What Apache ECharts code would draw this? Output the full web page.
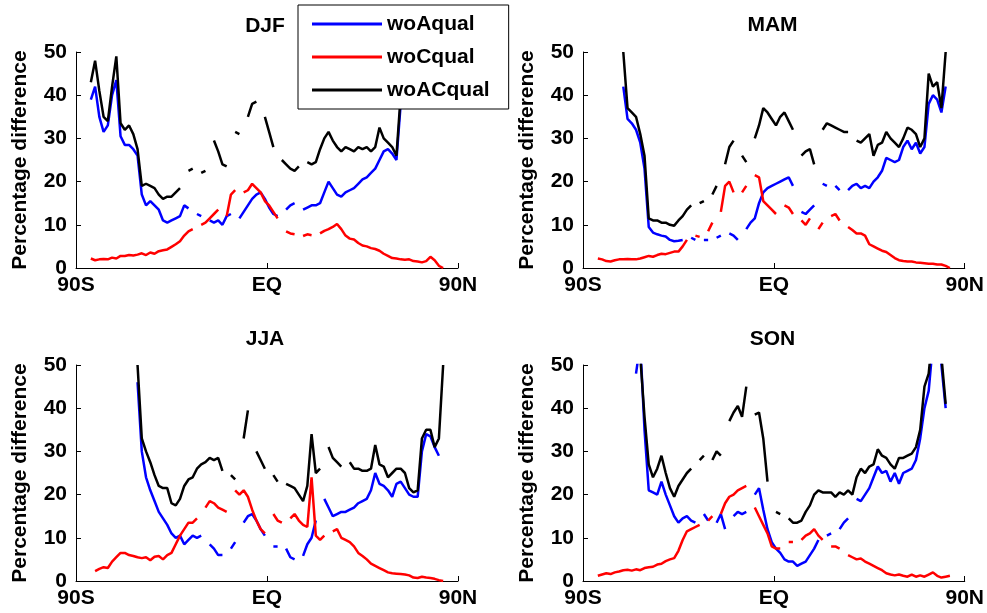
<!DOCTYPE html>
<html><head><meta charset="utf-8">
<script src="https://cdn.jsdelivr.net/npm/echarts@6.0.0/dist/echarts.min.js"></script>
<style>html,body{margin:0;padding:0;background:#fff}#c{width:987px;height:613px}</style>
</head><body><div id="c"></div>
<script>
// latitude sample points (degrees, negative = south)
const lat = [-85,-83,-81,-79,-77,-75,-73,-71,-69,-67,-65,-63,-61,-59,-57,-55,-53,-51,-49,-47,
-45,-43,-41,-39,-37,-35,-33,-31,-29,-27,-25,-23,-21,-19,-17,-15,-13,-11,-9,-7,
-5,-3,-1,1,3,5,7,9,11,13,15,17,19,21,23,25,27,29,31,33,
35,37,39,41,43,45,47,49,51,53,55,57,59,61,63,65,67,69,71,73,
75,77,79,81,83,85];
const seriesNames = ['woAqual','woCqual','woACqual'];
const panelTitles = ['DJF','MAM','JJA','SON'];
const xTickLabels = ['90S','EQ','90N'];
const yName = 'Percentage difference';

const djfA = [null,39,42,35,31.5,33,40,43.5,30.5,28.5,
28.5,27.5,26,17,14.5,15.5,14.5,13.5,11,10.5,
11,11.5,12,14.5,13.8,null,12.5,12,null,11,
10.5,11,10,12,12.5,null,11.5,13,14.5,16,
17,17.5,16,14,12.5,12,null,13.5,14.5,15,
null,13.5,14,14.5,14.5,15,17.5,20,18.5,17,
16.5,17.5,18,18.5,19.5,20.5,21,22,23,25,
27,27.5,26.5,25,38,60,null,null,null,null,
null,null,null,null,null,null];
const djfC = [null,2.2,1.8,2.0,2.1,2.0,2.4,2.2,2.8,2.8,
3.0,2.9,3.1,3.4,3.0,3.6,3.3,3.9,4.1,4.3,
4.9,5.5,6.2,7.5,8.5,9,null,10,10.5,11.5,
12.5,13.5,null,12,17,18,null,17.5,18,19.5,
18.5,17.5,15.5,14.5,13,11.5,null,8.5,8.0,7.8,
null,7.4,7.8,7.6,null,8.0,8.6,9.0,9.5,10.2,
9.0,7.5,6.8,6.6,5.8,5.2,5.0,4.6,4.4,4.0,
3.3,2.8,2.3,2.2,2.0,1.9,2.0,1.6,1.5,1.3,
1.6,2.6,1.8,0.5,0,null];
const djfAC = [null,43,48,41,35,34,42,49,33.5,32,
33,31,27.5,19,19.5,19,18.5,17,16,16.5,
16.5,17.5,18.5,null,22.5,23,null,22,22.5,null,
29.5,27,24,23.5,null,31.5,31,null,35,38,
38.5,null,35,31.5,28,null,25,24,23,22.5,
23.5,null,24.5,24,24.5,27.5,30,31.5,29.5,28,
27,28,27.5,27,28,27.5,28,27,28,32.5,
30,29,28,26,40,60,null,null,null,null,
null,null,null,null,null,null];

const mamA = [null,null,null,null,null,null,null,42,34.5,33.5,
32,29,23,9.5,8.2,7.8,7.5,7.3,6.5,6.2,
6.3,6.5,null,7.0,6.5,null,6.5,6.5,null,7.0,
7.5,null,8.0,7.5,6.5,null,9,10.5,11.5,15,
17.5,18.5,19,19.5,20,20.5,21,19,null,13,
12.5,13.5,14.5,null,19.5,19,null,19,18,null,
18,19,19.5,18.5,19,18.5,20,21,22.5,25.5,
25,24.5,25,28,29.5,27.5,29,26.5,28,38,
40,39,36,42,null,null];
const mamC = [null,2.2,2.0,1.6,1.5,1.8,2.0,2.0,2.1,2.0,
2.0,2.2,2.5,2.8,2.6,3.0,3.3,3.2,3.5,3.8,
3.8,5,6.5,null,7.5,7.2,null,8.5,10.5,null,
13,19,20,17.5,null,17.5,19,null,21.5,21,
15.5,14.5,13.5,12.5,null,14.5,14,12.5,null,11,
10,11.5,null,9,10.5,null,12,12.5,11,null,
9.5,8.8,8,8,7.5,5.5,5,4.5,4.0,3.7,
3,2.3,1.8,1.6,1.5,1.5,1.3,1.2,1.1,1.0,
1.0,0.8,0.8,0.5,0,null];
const mamAC = [null,null,null,null,null,null,null,50,37,36,
35,31,26,11.5,11,11,10.5,10.5,10,9.8,
11,12,13.5,14.5,null,15,15.5,null,17,19,
null,24,28,29.5,null,26,24.5,null,30,33,
37,36,34.5,33,35,36,34,32,null,26,
27,27.5,24,null,32,33.5,33,32.5,32,31.5,
31.5,null,29.5,29,30,31,26,28.5,29,31.5,
30,29,28,30,32.5,32,31,28,30,45,
42,43,37,50,null,null];

const jjaA = [null,null,null,null,null,null,null,null,null,null,
null,null,46,30,24,21,18.5,16,14.5,13,
11,10,10.5,8.5,9.5,10.5,10,10.5,null,8.5,
7.5,6,6,null,7.5,9,null,13.5,15,15.5,
14,12,10.5,null,8,8,null,7.5,5.5,5,
null,5.8,8.5,10,14,null,19,17,15,15.5,
16,16,16.5,17,18,18.5,19,21,25,22.5,
22,21,19.5,22.5,23,21.5,20,19.5,19.5,30,
34,33.5,31,29,null,null];
const jjaC = [null,null,2.3,2.8,3.2,3.0,4.5,5.5,6.5,6.5,
6,5.8,5.5,5.3,5.5,4.8,5.6,5.8,5.0,6.0,
6.5,8.5,10.5,12,13.5,13.5,14.5,null,17,18.5,
18,17,16.5,16,null,21,20,21,19.5,16.5,
14,12,11,null,15.5,14,13.5,null,14.5,15.5,
14,13,12.5,24,10.5,9.5,10.5,null,11.5,12,
10,9.5,9.0,8,6.5,5.8,5.0,4.0,3.5,3.0,
2.5,2.0,1.8,1.7,1.6,1.5,1.3,0.8,0.7,1.0,
0.8,0.7,0.5,0.2,0,null];
const jjaAC = [null,null,null,null,null,null,null,null,null,null,
null,null,50,33,30,27.5,24.5,22,21.5,21.5,
18,17.5,19,22,23.5,24,26,27,27.5,28.5,
28,28.5,25.5,null,24.5,23.5,null,33,39.5,null,
30,28,26,null,24.5,23,null,22.5,22,21.5,
20,18.5,22,34,25,26,null,31,28.5,27.5,
26.5,null,27.5,26,26,25.5,25.5,26,31.5,27,
26.5,24,25,26,26,25,21.5,20.5,21,33,
35,35,31,33,50,null];

const sonA = [null,null,null,null,null,null,null,null,null,null,
48,55,35,21,20.5,20,23,20,17.5,15,
13.5,14.5,15,14,13.5,null,15.5,14,null,13.5,
15.5,12,null,15,16,15.5,16,null,20,21.5,
16.5,12,9,7.5,6.5,5,4.5,4.5,3.5,4,
4.5,6,7.5,9.5,null,10.5,11,null,12,13.5,
14.5,null,19,18.5,20,21.5,24,26.5,25,25.5,
23,25,22.5,25,25.5,26,28,33,40,44,
55,65,50,40,null,null];
const sonC = [null,1.2,1.5,1.8,1.6,2.0,2.2,2.5,2.6,2.4,
2.7,2.5,3.0,3.2,3.3,3.8,4.0,4.6,5.0,5.3,
7.0,9.5,11.5,12,12.5,13,null,14,15,null,
15.5,18,19.5,20,21,21.5,22,null,17,15,
13,11,8,7.5,7.5,null,9,9,null,9.5,
10.5,11,12,10.5,9.5,null,8,8,7.5,null,
6,5.5,5,5.2,4.5,4.0,3.5,3.0,2.5,1.8,
1.5,1.3,1.5,1.2,1.0,1.5,1.0,1.3,1.0,1.5,
2.0,1.2,0.8,1.0,1.2,null];
const sonAC = [null,null,null,null,null,null,null,null,null,null,
null,52,38,27,24,26,29,25,21.5,19.5,
22,23.5,25,26,null,28,29,null,28,30,
29,null,37,39,40.5,38,45,null,38.5,39,
33,23,null,16,15.5,null,14.5,13.5,13.5,14,
16,17.5,20,21,20.5,20.5,20.5,19.5,20.5,20,
21,20,24,26,25,26.5,27,30.5,29,28.5,
27,26,28.5,28.5,29,29.5,31,35,45,48,
58,65,52,41,null,null];

const panelData = [[djfA,djfC,djfAC],[mamA,mamC,mamAC],[jjaA,jjaC,jjaAC],[sonA,sonC,sonAC]];
const colors = ['#0000ff','#ff0000','#000000'];
const FONT = "'Liberation Sans', Arial, Helvetica, sans-serif";

const grids = [
  {left:76, top:52, width:382, height:216},
  {left:583, top:52, width:383, height:216},
  {left:76, top:365, width:382, height:216},
  {left:583, top:365, width:383, height:216}
];
const titleTops = [11, 10, 324, 324];

const labelStyle = {color:'#000', fontSize:21, fontWeight:'bold', fontFamily:FONT};

const xAxes = grids.map((g,i)=>({
  gridIndex:i, type:'value', min:-90, max:90, interval:90,
  axisLine:{show:true, onZero:false, lineStyle:{color:'#000', width:1}},
  axisTick:{show:true, inside:true, length:5, lineStyle:{color:'#000'}},
  splitLine:{show:false},
  axisLabel:Object.assign({margin:7, formatter:v=> v===-90?xTickLabels[0]:(v===0?xTickLabels[1]:xTickLabels[2])}, labelStyle)
}));
const yAxes = grids.map((g,i)=>({
  gridIndex:i, type:'value', min:0, max:50, interval:10,
  axisLine:{show:true, onZero:false, lineStyle:{color:'#000', width:1}},
  axisTick:{show:true, inside:true, length:5, lineStyle:{color:'#000'}},
  splitLine:{show:false},
  axisLabel:Object.assign({margin:9}, labelStyle),
  name:yName, nameLocation:'middle', nameGap:45,
  nameTextStyle:{color:'#000', fontSize:21, fontWeight:'bold', fontFamily:FONT}
}));

const series = [];
panelData.forEach((arrs,p)=>{
  arrs.forEach((arr,s)=>{
    series.push({
      type:'line', name:seriesNames[s], xAxisIndex:p, yAxisIndex:p,
      data: lat.map((x,i)=> arr[i]===null ? [x,'-'] : [x,arr[i]]),
      symbol:'none', showSymbol:false, connectNulls:false, clip:true,
      lineStyle:{color:colors[s], width:2.5},
      itemStyle:{color:colors[s]},
      emphasis:{disabled:true}
    });
  });
});

const titles = panelTitles.map((t,i)=>({
  text:t, left:grids[i].left + grids[i].width/2 - 7, top:titleTops[i], textAlign:'center',
  textStyle:{color:'#000', fontSize:21, fontWeight:'bold', fontFamily:FONT}
}));

const chart = echarts.init(document.getElementById('c'), null, {renderer:'canvas'});
chart.setOption({
  animation:false,
  backgroundColor:'#fff',
  title:titles,
  grid:grids.map(g=>Object.assign({containLabel:false}, g)),
  xAxis:xAxes, yAxis:yAxes,
  legend:{
    data:seriesNames.map(n=>({name:n, icon:'rect'})), orient:'vertical', left:298, top:5,
    backgroundColor:'#fff', borderColor:'#000', borderWidth:1, borderRadius:0,
    padding:[8,19,8,14], itemWidth:70, itemHeight:3, itemGap:11,
    selectedMode:false,
    textStyle:{color:'#000', fontSize:21, fontWeight:'bold', fontFamily:FONT, lineHeight:22}
  },
  series:series
});
</script></body></html>
